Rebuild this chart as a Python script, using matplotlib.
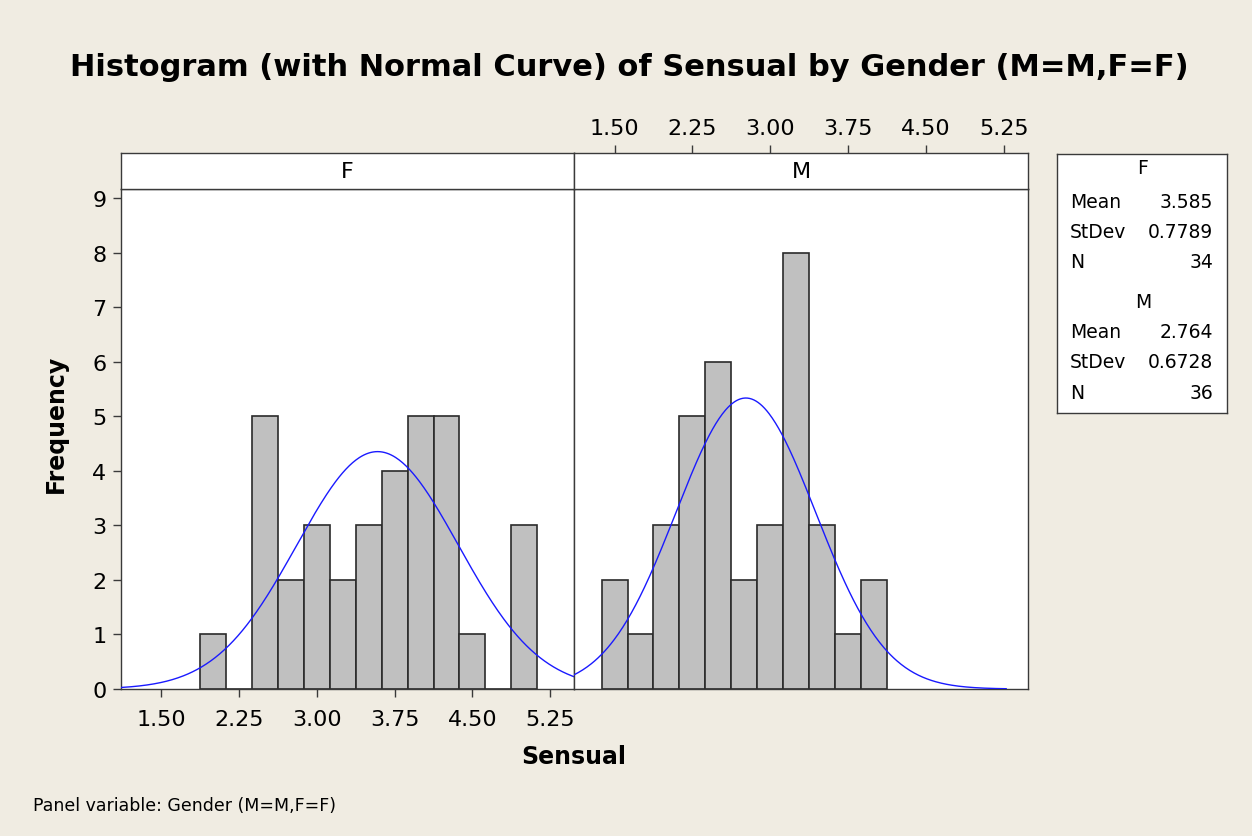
import numpy as np
import matplotlib
matplotlib.use('Agg')
import matplotlib.pyplot as plt

# Histogram data (bin midpoints, width 0.25)
f_mids = [2.0, 2.25, 2.5, 2.75, 3.0, 3.25, 3.5, 3.75, 4.0, 4.25, 4.5, 4.75, 5.0]
f_counts = [1, 0, 5, 2, 3, 2, 3, 4, 5, 5, 1, 0, 3]
m_mids = [1.5, 1.75, 2.0, 2.25, 2.5, 2.75, 3.0, 3.25, 3.5, 3.75, 4.0]
m_counts = [2, 1, 3, 5, 6, 2, 3, 8, 3, 1, 2]
bin_width = 0.25

# Summary stats
groups = ['F', 'M']
means = [3.585, 2.764]
stdevs = [0.7789, 0.6728]
ns = [34, 36]

x_ticks = [1.50, 2.25, 3.00, 3.75, 4.50, 5.25]
x_ticklabels = ['1.50', '2.25', '3.00', '3.75', '4.50', '5.25']
y_ticks = list(range(10))

bg = '#F0ECE2'
frame = '#3a3a3a'
xlim = (1.11, 5.48)
ylim = (0, 9.17)

W, H = 1252, 837
fig = plt.figure(figsize=(W / 100, H / 100), dpi=100, facecolor=bg)


def box(x0, y0, x1, y1):
    # pixel box (top-left origin) -> figure fraction rect
    return [x0 / W, 1 - y1 / H, (x1 - x0) / W, (y1 - y0) / H]


ax_f = fig.add_axes(box(121, 190, 574, 690))
ax_m = fig.add_axes(box(574, 190, 1028, 690))
st_f = fig.add_axes(box(121, 154, 574, 190))
st_m = fig.add_axes(box(574, 154, 1028, 190))

panels = [(ax_f, f_mids, f_counts), (ax_m, m_mids, m_counts)]
for i, (ax, mids, counts) in enumerate(panels):
    ax.set_facecolor('white')
    ax.bar(mids, counts, width=bin_width, color='#C0C0C0', edgecolor='#2a2a2a',
           linewidth=1.2, zorder=2)
    xs = np.linspace(xlim[0], xlim[1] if i == 0 else 5.27, 400)
    ys = ns[i] * bin_width / (stdevs[i] * np.sqrt(2 * np.pi)) * \
        np.exp(-0.5 * ((xs - means[i]) / stdevs[i]) ** 2)
    ax.plot(xs, ys, color='#1a1aff', linewidth=1.0, zorder=3)
    ax.set_xlim(*xlim)
    ax.set_ylim(*ylim)
    for s in ax.spines.values():
        s.set_color(frame)
        s.set_linewidth(1.0)

ax_f.set_xticks(x_ticks)
ax_f.set_xticklabels(x_ticklabels)
ax_f.set_yticks(y_ticks)
ax_f.tick_params(axis='x', direction='out', length=6, width=1, color=frame,
                 labelsize=16, pad=8.5)
ax_f.tick_params(axis='y', direction='out', length=6, width=1, color=frame,
                 labelsize=16, pad=4.5)
ax_m.set_xticks([])
ax_m.set_yticks([])

for st, lab in [(st_f, 'F'), (st_m, 'M')]:
    st.set_facecolor('white')
    st.set_xlim(*xlim)
    st.set_yticks([])
    st.text(0.5, 0.5, lab, transform=st.transAxes, ha='center', va='center',
            fontsize=16)
    for s in st.spines.values():
        s.set_color(frame)
        s.set_linewidth(1.0)
st_f.set_xticks([])
st_m.xaxis.tick_top()
st_m.set_xticks(x_ticks)
st_m.set_xticklabels(x_ticklabels)
st_m.tick_params(axis='x', direction='out', length=6, width=1, color=frame,
                 labelsize=16, pad=5)

fig.text(629 / W, 1 - 67 / H, 'Histogram (with Normal Curve) of Sensual by Gender (M=M,F=F)',
         ha='center', va='center', fontsize=22, fontweight='bold')
fig.text(574 / W, 1 - 757 / H, 'Sensual', ha='center', va='center',
         fontsize=17, fontweight='bold')
fig.text(56 / W, 1 - 424 / H, 'Frequency', ha='center', va='center',
         fontsize=17, fontweight='bold', rotation=90)
fig.text(33 / W, 1 - 806 / H, 'Panel variable: Gender (M=M,F=F)', ha='left',
         va='center', fontsize=12.5)

# Stats legend box
lg = fig.add_axes(box(1057, 155, 1227, 414))
lg.set_facecolor('white')
lg.set_xticks([])
lg.set_yticks([])
for s in lg.spines.values():
    s.set_color(frame)
    s.set_linewidth(1.0)

rows_y = [[168, 203, 233, 263], [303, 333, 363, 394]]
for i, g in enumerate(groups):
    y = rows_y[i]
    fig.text(1143 / W, 1 - y[0] / H, g, ha='center', va='center', fontsize=13.5)
    entries = [('Mean', f'{means[i]:.3f}'), ('StDev', f'{stdevs[i]:.4f}'),
               ('N', str(ns[i]))]
    for (name, val), yy in zip(entries, y[1:]):
        fig.text(1070 / W, 1 - yy / H, name, ha='left', va='center', fontsize=13.5)
        fig.text(1213 / W, 1 - yy / H, val, ha='right', va='center', fontsize=13.5)

fig.savefig('out.png', dpi=100, facecolor=bg)
